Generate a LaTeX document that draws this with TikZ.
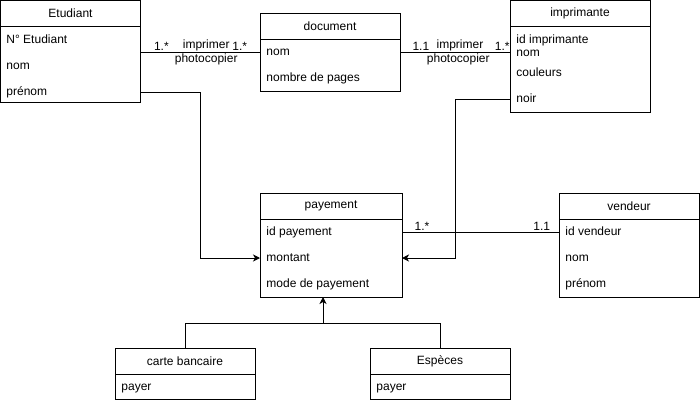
\documentclass[tikz,border=0pt]{standalone}
\usepackage{fontspec}
\setmainfont{Liberation Sans}
\usetikzlibrary{arrows.meta,positioning}

\begin{document}
\begin{tikzpicture}[
  x=1pt, y=-1pt,
  line width=0.9pt,
  every node/.style={font=\fontsize{12}{14}\selectfont},
  head/.style={
    draw,
    minimum width=140pt,
    minimum height=26pt,
    inner sep=0pt,
    outer sep=0pt
  },
  body/.style={
    draw,
    anchor=north,
    minimum width=140pt,
    inner sep=0pt,
    outer sep=0pt
  },
  attr/.style={anchor=west, inner sep=0pt, text height=9pt, text depth=2.5pt},
  mult/.style={inner sep=1pt},
  arr/.style={-{Stealth[length=7pt,width=7pt,inset=2pt]}}
]
\useasboundingbox (0,0) rectangle (700,404);

% Classes
\node[head] (etudH) at (70.5,13.5) {Etudiant};
\node[body,minimum height=76pt] (etudB) at (etudH.south) {};
\node[attr] (enum) at (6,40) {N° Etudiant};
\node[attr] (enom) at (6,66) {nom};
\node[attr] (eprenom) at (6,92) {prénom};

\node[head] (docH) at (330,26) {document};
\node[body,minimum height=52pt] (docB) at (docH.south) {};
\node[attr] (dnom) at (266,52) {nom};
\node[attr] (dpages) at (266,78) {nombre de pages};

\node[head] (imprH) at (580,13.5) {imprimante};
\node[body,minimum height=86pt] (imprB) at (imprH.south) {};
\node[attr] (iid) at (516,40) {id imprimante};
\node[attr] (inom) at (516,53) {nom};
\node[attr] (icoul) at (516,73) {couleurs};
\node[attr] (inoir) at (516,99) {noir};

\node[head,minimum width=142pt] (payH) at (331,206) {payement};
\node[body,minimum width=142pt,minimum height=78pt] (payB) at (payH.south) {};
\node[attr] (pid) at (266,232) {id payement};
\node[attr] (pmont) at (266,258) {montant};
\node[attr] (pmode) at (266,284) {mode de payement};

\node[head] (vendH) at (629,206) {vendeur};
\node[body,minimum height=78pt] (vendB) at (vendH.south) {};
\node[attr] (vid) at (565,232) {id vendeur};
\node[attr] (vnom) at (565,258) {nom};
\node[attr] (vprenom) at (565,284) {prénom};

\node[head] (carteH) at (185,361) {carte bancaire};
\node[body,minimum height=25pt] (carteB) at (carteH.south) {};
\node[attr] (cpayer) at (121,387) {payer};

\node[head] (espH) at (440,361) {Espèces};
\node[body,minimum height=25pt] (espB) at (espH.south) {};
\node[attr] (spayer) at (376,387) {payer};

% Associations
\draw (etudB.east |- dnom) --
  node[pos=0.175,above,mult] {1.*}
  node[pos=0.55,above,mult] {imprimer}
  node[pos=0.55,below,mult] {photocopier}
  node[pos=0.83,above,mult] {1.*} (docB.west |- dnom);
\draw (docB.east |- dnom) --
  node[pos=0.19,above,mult] {1.1}
  node[pos=0.545,above,mult] {imprimer}
  node[pos=0.53,below,mult] {photocopier}
  node[pos=0.93,above,mult] {1.*} (imprB.west |- dnom);
\draw (payB.east |- pid) --
  node[pos=0.127,above,mult] {1.*}
  node[pos=0.89,above,mult] {1.1} (vendB.west |- pid);

% Links to payement
\coordinate (lbend) at (200,0);
\coordinate (rbend) at (455,0);
\draw[arr] (etudB.east |- eprenom) -- (lbend |- eprenom) -- (lbend |- pmont) -- (payB.west |- pmont);
\draw[arr] (imprB.west |- inoir) -- (rbend |- inoir) -- (rbend |- pmont) -- (payB.east |- pmont);

% Generalisation
\coordinate (gen) at (323,323);
\draw (carteH.north) -- (carteH.north |- gen) -- (espH.north |- gen) -- (espH.north);
\draw[arr] (gen) -- (gen |- payB.south);

\end{tikzpicture}
\end{document}
